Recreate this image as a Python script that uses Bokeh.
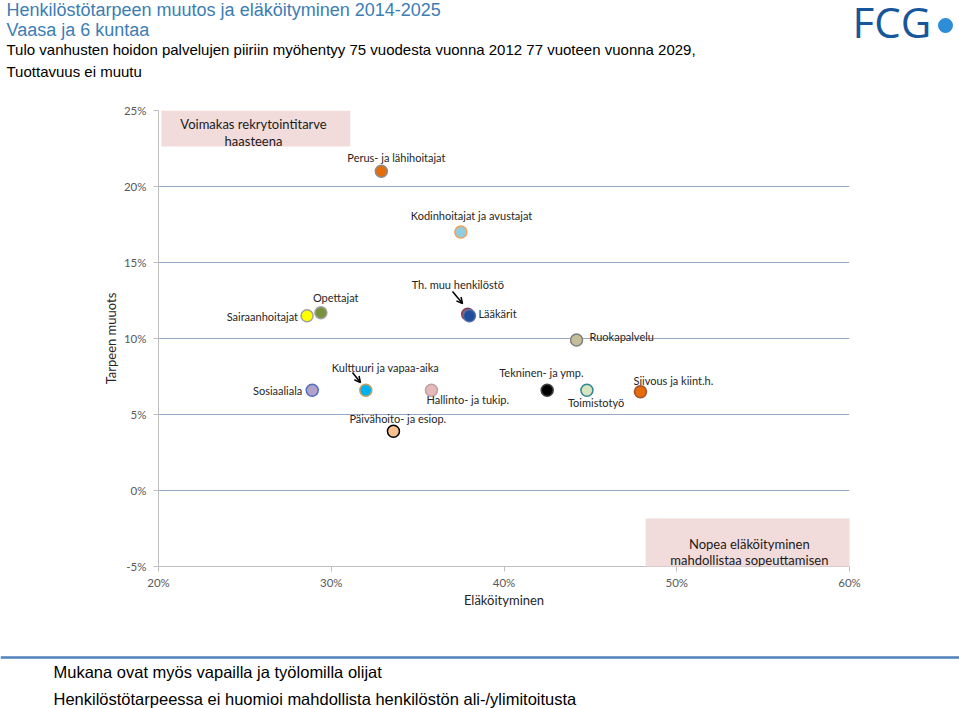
from bokeh.plotting import figure
from bokeh.layouts import column
from bokeh.models import (FixedTicker, PrintfTickFormatter, BoxAnnotation, Label,
                          Arrow, OpenHead, ColumnDataSource, Span)
from bokeh.core.properties import value
from bokeh.embed import file_html
from bokeh.resources import INLINE

# ---------------- data ----------------
ammattiryhma = ["Perus- ja lähihoitajat", "Kodinhoitajat ja avustajat", "Th. muu henkilöstö",
                "Lääkärit", "Sairaanhoitajat", "Opettajat", "Ruokapalvelu", "Sosiaaliala",
                "Kulttuuri ja vapaa-aika", "Hallinto- ja tukip.", "Tekninen- ja ymp.",
                "Toimistotyö", "Siivous ja kiint.h.", "Päivähoito- ja esiop."]
elakoityminen = [32.9, 37.5, 37.9, 38.0, 28.6, 29.4, 44.2, 28.9, 32.0, 35.8, 42.5, 44.8, 47.9, 33.6]
tarpeen_muutos = [21.0, 17.0, 11.6, 11.5, 11.5, 11.7, 9.9, 6.6, 6.6, 6.6, 6.6, 6.6, 6.5, 3.9]
x_ticks = [20, 30, 40, 50, 60]
y_ticks = [-5, 0, 5, 10, 15, 20, 25]

title_lines = ["Henkilöstötarpeen muutos ja eläköityminen 2014-2025", "Vaasa ja 6 kuntaa"]
subtitle_lines = ["Tulo vanhusten hoidon palvelujen piiriin myöhentyy 75 vuodesta vuonna 2012 77 vuoteen vuonna 2029,",
                  "Tuottavuus ei muutu"]
footer_lines = ["Mukana ovat myös vapailla ja työlomilla olijat",
                "Henkilöstötarpeessa ei huomioi mahdollista henkilöstön ali-/ylimitoitusta"]

# ---------------- styles ----------------
fill_colors = ["#E46C0A", "#93CDDD", "#C0504D", "#1F4E9A", "#FFFF00", "#77933C", "#C4BD97",
               "#B3A2C7", "#00B0F0", "#E6B9B8", "#000000", "#D7E4BD", "#E46C0A", "#FAC090"]
line_colors = ["#8C8C8C", "#F0A060", "#7F3F5F", "#4F6FA8", "#A0A0A0", "#A0A0A0", "#7F7F7F",
               "#4F6FC0", "#C0A060", "#C0A0A0", "#404040", "#31859C", "#A05030", "#000000"]
lab_dx = [-34, -50, -56, 9, -9, -8, 13, -10, -34, -5, -48, -19, -7, -44]
lab_dy = [-14, -17, -30, -2, 1, -15, -4, 0, -23, 9, -18, 12, -11, -13]
lab_align = ["left", "left", "left", "left", "right", "left", "left", "right", "left",
             "left", "left", "left", "left", "left"]

W = 959
H_HEAD, H_MAIN, H_FOOT = 95, 545, 68
FONT = "Lato"
TF = "Liberation Sans"


def blank(height):
    f = figure(width=W, height=height, x_range=(0, W), y_range=(height, 0),
               output_backend="svg", toolbar_location=None, frame_align=False,
               x_axis_location=None, y_axis_location=None, min_border=0)
    f.grid.visible = False
    f.outline_line_color = None
    return f


# ---------------- header ----------------
head = blank(H_HEAD)
head.text(x=[6, 6], y=[9, 29], text=title_lines, text_baseline="middle",
          text_font=value(TF), text_font_size="18px", text_color="#3C7DB4")
head.text(x=[6, 6], y=[49, 71], text=subtitle_lines, text_baseline="middle",
          text_font=value(TF), text_font_size="15px", text_color="#000000")
head.text(x=[852], y=[21], text=["FCG"], text_baseline="middle",
          text_font=value("Open Sans"), text_font_size="42px", text_color="#17569B")
head.scatter(x=[945], y=[25], size=15, fill_color="#2D8DD6", line_color=None)

# ---------------- main chart ----------------
FL, FR, FT, FB = 158, 849, 15, 471
p = figure(width=W, height=H_MAIN, x_range=(20, 60), y_range=(-5, 25), output_backend="svg",
           toolbar_location=None, frame_align=False, min_border_left=FL, min_border_right=W - FR,
           min_border_top=FT, min_border_bottom=H_MAIN - FB)
p.outline_line_color = None

for ax in (p.xaxis[0], p.yaxis[0]):
    ax.axis_line_color = "#BFBFBF"
    ax.major_tick_line_color = "#BFBFBF"
    ax.minor_tick_line_color = None
    ax.major_tick_out = 5
    ax.major_tick_in = 0
    ax.major_label_text_font = FONT
    ax.major_label_text_font_size = "11.5px"
    ax.major_label_text_color = "#595959"
    ax.axis_label_text_font = FONT
    ax.axis_label_text_font_size = "13px"
    ax.axis_label_text_font_style = "normal"
    ax.axis_label_text_color = "#262626"
    ax.formatter = PrintfTickFormatter(format="%d%%")

p.xaxis.ticker = FixedTicker(ticks=x_ticks)
p.yaxis.ticker = FixedTicker(ticks=y_ticks)
p.xaxis.axis_label = "Eläköityminen"
p.yaxis.axis_label = "Tarpeen muuots"
p.xaxis.major_label_standoff = 4
p.xaxis.axis_label_standoff = 0
p.yaxis.major_label_standoff = 7
p.yaxis.axis_label_standoff = 2

p.xgrid.grid_line_color = None
p.ygrid.ticker = FixedTicker(ticks=y_ticks)
p.ygrid.grid_line_color = "#95A9C4"
p.ygrid.grid_line_width = 1

p.add_layout(BoxAnnotation(left=20.17, right=31.1, top=25, bottom=22.63,
                           fill_color="#F2DCDB", fill_alpha=1, line_color=None))
p.add_layout(BoxAnnotation(left=48.2, right=60.4, top=-1.84, bottom=-5.05,
                           fill_color="#F2DCDB", fill_alpha=1, line_color=None))
for txt, x, y in [("Voimakas rekrytointitarve", 25.5, 24.08), ("haasteena", 25.5, 23.0),
                  ("Nopea eläköityminen", 54.2, -3.49), ("mahdollistaa sopeuttamisen", 54.2, -4.54)]:
    p.add_layout(Label(x=x, y=y, text=txt, text_align="center", text_baseline="middle",
                       text_font=FONT, text_font_size="13px", text_color="#1a1a1a"))

src = ColumnDataSource(dict(x=elakoityminen, y=tarpeen_muutos, name=ammattiryhma,
                            fill=fill_colors, line=line_colors, dx=lab_dx, dy=lab_dy,
                            align=lab_align))

p.scatter("x", "y", source=src, size=12, fill_color="fill", line_color="line", line_width=1.5)
p.text("x", "y", text="name", source=src, x_offset="dx", y_offset="dy", text_align="align",
       text_baseline="middle", text_font=value(FONT), text_font_size="11px",
       text_color="#262626")

for xs, ys, xe, ye in [(37.02, 13.09, 37.6, 12.3), (31.23, 7.76, 31.69, 7.1)]:
    p.add_layout(Arrow(end=OpenHead(size=6, line_width=1.5, line_color="black"),
                       x_start=xs, y_start=ys, x_end=xe, y_end=ye,
                       line_color="black", line_width=1.5))

# ---------------- footer ----------------
foot = blank(H_FOOT)
foot.add_layout(Span(location=17, dimension="width", line_color="#4F81BD", line_width=2.5))
foot.text(x=[53, 53], y=[31, 58], text=footer_lines, text_baseline="middle",
          text_font=value(TF), text_font_size="16.5px", text_color="#000000")

layout = column(head, p, foot, spacing=0)
open("out.html", "w").write(file_html(layout, INLINE))
